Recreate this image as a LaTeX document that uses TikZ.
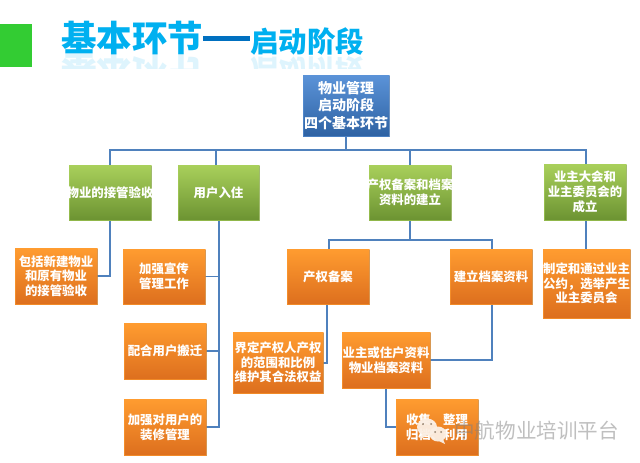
\documentclass[tikz,border=0pt]{standalone}
\usepackage{fontspec}
\setmainfont{Noto Sans CJK SC}
\usetikzlibrary{shadows,fadings}
\definecolor{titlecyan}{HTML}{00B0F0}
\definecolor{titleblue}{HTML}{0070C0}
\definecolor{linkblue}{HTML}{4F81BD}
\definecolor{greenT}{HTML}{A9D05B}
\definecolor{greenB}{HTML}{6C9332}
\definecolor{orangeT}{HTML}{FF9C30}
\definecolor{orangeB}{HTML}{DD6F1E}
\definecolor{rootT}{HTML}{5B93D8}
\definecolor{rootB}{HTML}{2E62A3}
\definecolor{squaregreen}{HTML}{33CC33}
\definecolor{bubblefill}{HTML}{FBEFE4}
\tikzset{
  boxbase/.style={rectangle,inner sep=0pt,draw=#1,draw opacity=.6,line width=0.5pt,text=white,align=center,
    font=\bfseries\fontsize{12.4}{14.7}\selectfont,
    drop shadow={shadow xshift=0.8pt,shadow yshift=-1.2pt,opacity=.6,fill=black!70}},
  rootbox/.style={boxbase=rootT,top color=rootT,bottom color=rootB,
    font=\bfseries\fontsize{14}{17.5}\selectfont},
  greenbox/.style={boxbase=greenT,top color=greenT,bottom color=greenB},
  orangebox/.style={boxbase=orangeT,top color=orangeT,bottom color=orangeB},
  link/.style={draw=linkblue,line width=1.5pt,line join=miter},
  titlebig/.style={inner sep=0pt,font=\bfseries\fontsize{35.5}{35.5}\selectfont,text=titlecyan},
  titlesmall/.style={inner sep=0pt,font=\bfseries\fontsize{28.5}{28.5}\selectfont,text=titlecyan},
  marktext/.style={inner sep=0pt,font=\fontsize{20.6}{20.6}\selectfont,text=gray,text opacity=.5},
  bubble/.style={fill=bubblefill,fill opacity=.95},
}
\newcommand{\ovl}[1]{\makebox[0pt]{#1}}
\newcommand{\bx}[6]{\node[#1,minimum width=#4-#3,minimum height=#6-#5] (#2) at ({(#3+#4)/2},{(#5+#6)/2})}
\begin{document}
\begin{tikzpicture}[x=1pt,y=-1pt]
\useasboundingbox (0,0) rectangle (640,463);
\fill[white] (0,0) rectangle (640,463);
\fill[squaregreen] (0,24) rectangle (32,67);
% title reflections
\begin{scope}[opacity=.13]
\node[titlebig,anchor=west,yscale=-1] (r1) at (61,70) {基本环节};
\node[titlesmall,anchor=west,yscale=-1] (r2) at (250,70) {启动阶段};
\end{scope}
\fill[white] (55,69) rectangle (370,90);
% title
\node[titlebig,anchor=west] (t1) at (61,38) {基本环节};
\fill[titleblue] (203,35.5) rectangle (250,40.5);
\node[titlesmall,anchor=west] (t2) at (250,42) {启动阶段};
% connectors
\coordinate (busL) at (110,150);
\coordinate (busR) at (586,150);
\coordinate (rootstem) at (346,136);
\coordinate (gbtop) at (216,165);
\coordinate (gbbot) at (219,220);
\coordinate (gctop) at (410,165);
\coordinate (gcbot) at (410,220);
\coordinate (gcjoin) at (410,240);
\coordinate (oetop) at (329,249);
\coordinate (oebot) at (327,304);
\coordinate (oftop) at (492,249);
\coordinate (ofbot) at (492,304);
\coordinate (ohbot) at (386,388);
\coordinate (gdbot) at (586,220);
\coordinate (ojtop) at (586,249);
\draw[link] (rootstem) -- (rootstem |- busL);
\draw[link] (110,165) -- (busL) -- (busR) -- (586,164);
\draw[link] (gbtop) -- (gbtop |- busL);
\draw[link] (gctop) -- (gctop |- busL);
\draw[link] (gcbot) -- (gcjoin);
\draw[link] (oetop) -- (oetop |- gcjoin) -- (oftop |- gcjoin) -- (oftop);
\draw[link] (gdbot) -- (ojtop);
\draw[link] (110,220) |- (97,276);
\draw[link] (gbbot) |- (206,427);
\draw[link] (219,276.5) -- (205,276.5);
\draw[link] (219,351) -- (206,351);
\draw[link] (oebot) |- (323,363);
\draw[link] (ofbot) |- (430,360);
\draw[link] (ohbot) |- (396,427);
% boxes
\bx{rootbox}{root}{303}{389}{75}{136} {物业管理\\启动阶段\\\ovl{四个基本环节}};
\bx{greenbox}{ga}{69}{151}{165}{220} {\ovl{物业的接管验收}};
\bx{greenbox}{gb}{178}{259}{165}{220} {用户入住};
\bx{greenbox}{gc}{369}{451}{165}{220} {\ovl{产权备案和档案}\\资料的建立};
\bx{greenbox}{gd}{544}{626}{164}{220} {业主大会和\\业主委员会的\\成立};
\bx{orangebox}{oa}{15}{97}{248}{304} {包括新建物业\\和原有物业\\的接管验收};
\bx{orangebox}{ob}{123}{205}{249}{304} {加强宣传\\管理工作};
\bx{orangebox}{oc}{124}{206}{323}{379} {配合用户搬迁};
\bx{orangebox}{od}{124}{206}{399}{455} {加强对用户的\\装修管理};
\bx{orangebox}{oe}{287}{369}{249}{304} {产权备案};
\bx{orangebox}{of}{450}{532}{249}{304} {建立档案资料};
\bx{orangebox}{og}{233}{323}{332}{393} {界定产权人产权\\的范围和比例\\\ovl{维护其合法权益}};
\bx{orangebox}{oh}{342}{430}{332}{388} {\ovl{业主或住户资料}\\物业档案资料};
\bx{orangebox}{oi}{396}{478}{399}{455} {收集、整理\\归档、利用};
\bx{orangebox}{oj}{543}{630}{249}{318} {\ovl{制定和通过业主}\\\ovl{公约，选举产生}\\业主委员会};
% watermark
\fill[bubble] (427,427) ellipse (10 and 8.5);
\fill[bubble] (422,434) -- (421,439) -- (427,435) -- cycle;
\fill[bubble] (438,434) ellipse (8.5 and 7.5);
\fill[bubble] (443,439) -- (445,444) -- (439,441) -- cycle;
\foreach \p in {(423,424),(431,424),(435,432),(441,432)} \fill[gray!70!brown] \p circle (1);
\node[marktext,anchor=west] (wm) at (454,431) {中航物业培训平台};
\end{tikzpicture}
\end{document}
